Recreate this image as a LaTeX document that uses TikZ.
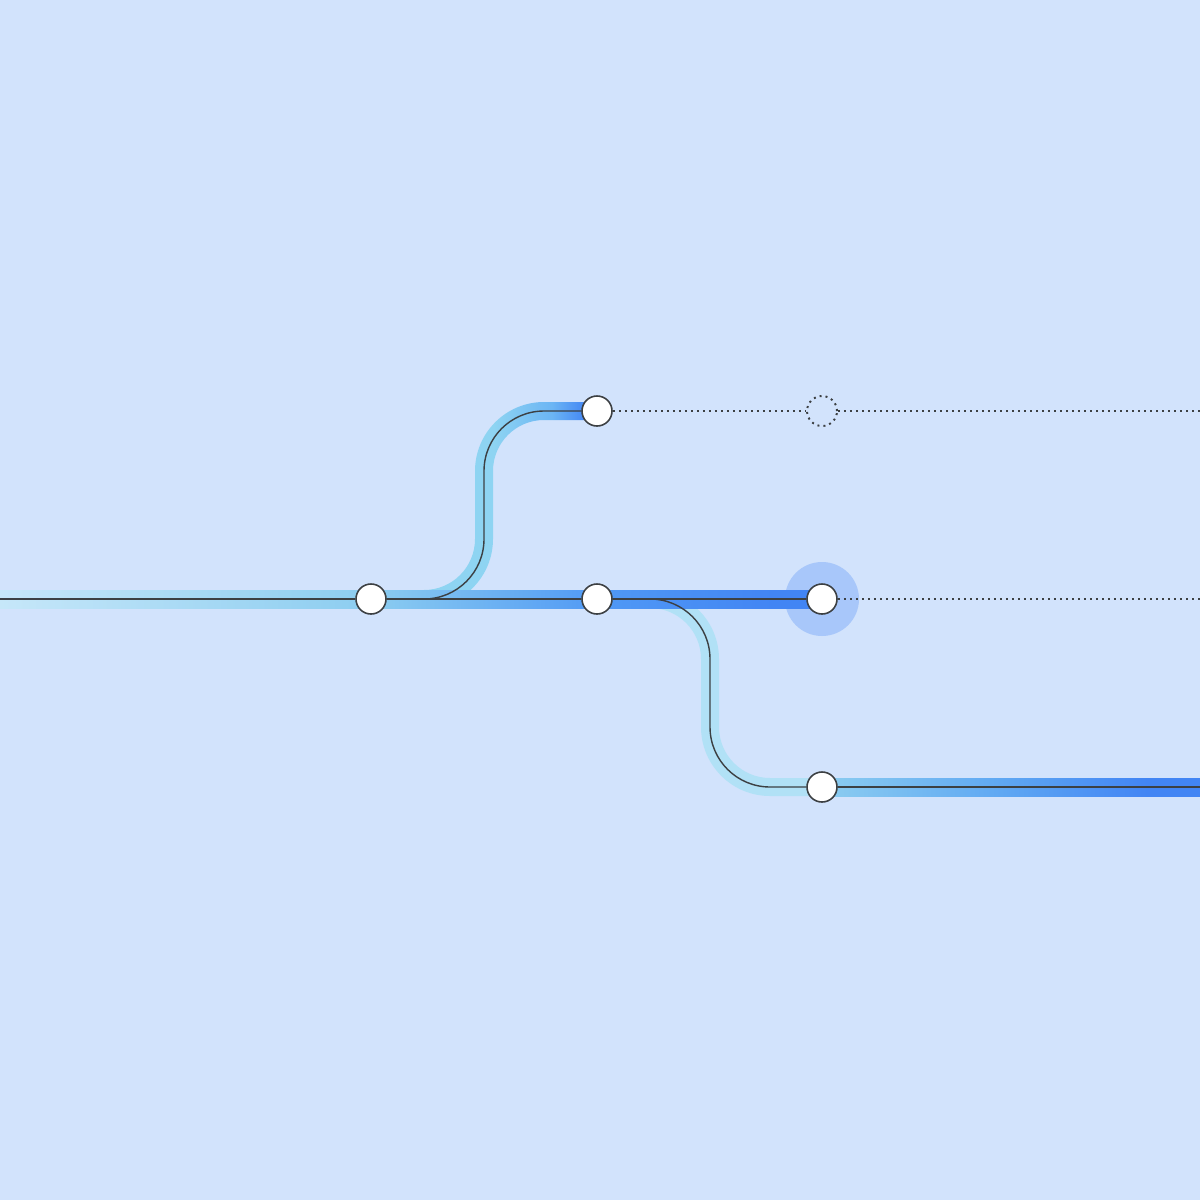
\documentclass[tikz,border=0pt]{standalone}
\usepackage{xcolor}
\usepackage{tikz}
\usetikzlibrary{positioning,calc}

\definecolor{bgblue}{HTML}{D2E3FC}
\definecolor{halo}{HTML}{A8C7FA}
\definecolor{ink}{HTML}{3C4043}
\definecolor{bandpale}{HTML}{C6E7F9}
\definecolor{bandsky}{HTML}{8CCDF0}
\definecolor{bandmid}{HTML}{5099F5}
\definecolor{bandblue}{HTML}{4285F4}
\definecolor{upsky}{HTML}{8ED4F2}
\definecolor{upmid}{HTML}{6BB5F4}
\definecolor{lowmid}{HTML}{60A9F3}
\definecolor{lowpale}{HTML}{B1E1F6}

\pgfdeclarehorizontalshading{mainfade}{100bp}{color(0bp)=(bandpale); color(25bp)=(bandpale); color(47.5bp)=(bandsky); color(61.5bp)=(bandmid); color(72bp)=(bandblue); color(100bp)=(bandblue)}
\pgfdeclarehorizontalshading{upfade}{100bp}{color(0bp)=(upsky); color(45bp)=(upsky); color(62bp)=(upmid); color(72bp)=(bandblue); color(100bp)=(bandblue)}
\pgfdeclarehorizontalshading{lowfade}{100bp}{color(0bp)=(bandsky); color(25bp)=(bandsky); color(48bp)=(lowmid); color(68bp)=(bandblue); color(100bp)=(bandblue)}

\begin{document}
\begin{tikzpicture}[x=0.01cm, y=-0.01cm,
  metro stop/.style={circle, draw=ink, fill=white, line width=0.45pt, minimum size=0.3cm, inner sep=0pt},
  ghost stop/.style={circle, draw=ink, line width=0.55pt, dash pattern=on 0.02cm off 0.04cm, minimum size=0.3cm, inner sep=0pt},
  track/.style={draw=ink, line width=0.4pt},
  future/.style={draw=ink, line width=0.55pt, dash pattern=on 0.02cm off 0.04cm}]
    \fill[bgblue] (0,0) rectangle (1200,1200);
    \useasboundingbox (0,0) rectangle (1200,1200);

    \fill[halo] (822,599) circle (37); % current head
    
    % coloured bands
    \fill[lowpale] (650,590) arc[start angle=270, end angle=360, radius=69] -- (719,727) arc[start angle=180, end angle=90, radius=51] -- (822,778) -- (822,796) -- (770,796) arc[start angle=90, end angle=180, radius=69] -- (701,659) arc[start angle=0, end angle=-90, radius=51] -- cycle;
    \shade[shading=upfade] (424,608) arc[start angle=90, end angle=0, radius=69] -- (493,471) arc[start angle=180, end angle=270, radius=51] -- (597,420) -- (597,402) -- (544,402) arc[start angle=270, end angle=180, radius=69] -- (475,539) arc[start angle=0, end angle=90, radius=51] -- cycle;
    \shade[shading=mainfade] (0,590) rectangle (822,608);
    \shade[shading=lowfade] (822,778) rectangle (1200,796);

    \node[metro stop] (split) at (371,599) {};
    \node[metro stop] (base) at (597,599) {};
    \node[metro stop] (head) at (822,599) {};
    \node[metro stop] (tip) at (597,411) {};
    \node[metro stop] (merge) at (822,787) {};
    \node[ghost stop] (ghost) at (822,411) {};
    \coordinate (origin) at (0,599);
    \coordinate (topend) at (1200,411);
    \coordinate (midend) at (1200,599);
    \coordinate (lowend) at (1200,787);
    
    \draw[track] (origin) -- (split) -- (base) -- (head);
    \draw[track, rounded corners=0.6cm] (split) -- ++(113,0) |- (tip); % branch up
    \draw[track, rounded corners=0.6cm] (base) -- ++(113,0) |- (merge); % branch down
    \draw[track] (merge) -- (lowend);
    
    \draw[future] (tip) -- (ghost) -- (topend);
    \draw[future] (head) -- (midend);

\end{tikzpicture}
\end{document}
